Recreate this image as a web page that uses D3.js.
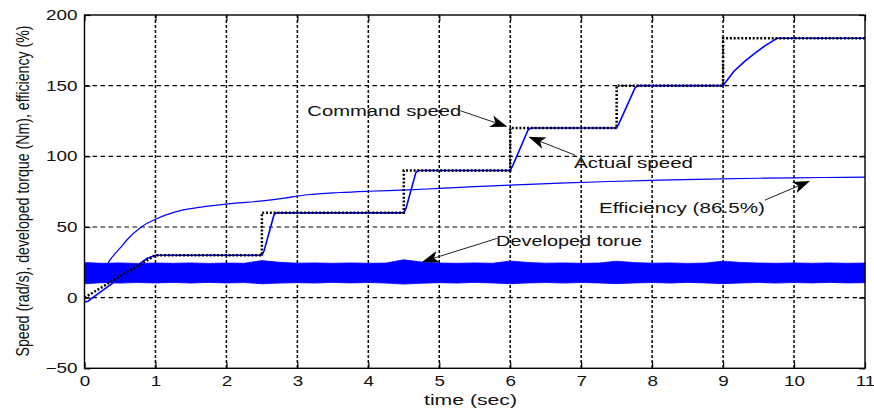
<!DOCTYPE html>
<html><head><meta charset="utf-8">
<script src="https://cdn.jsdelivr.net/npm/d3@7/dist/d3.min.js"></script>
<style>body{margin:0;background:#fff}svg{display:block}</style>
</head><body><svg id="c" width="874" height="409"></svg>
<script>
// ---------- data ----------
const xTicks = [0,1,2,3,4,5,6,7,8,9,10,11];
const yTicks = [-50,0,50,100,150,200];
const xGrid = [1,2,3,4,5,6,7,8,9,10];
const yGrid = [0,50,100,150];

const cmdTime  = [0, 1, 2.5, 2.5, 4.5, 4.5, 6, 6, 7.5, 7.5, 9, 9, 11];
const cmdSpeed = [0, 30, 30, 60, 60, 90, 90, 120, 120, 150, 150, 183.5, 183.5];

const actTime  = [0, 0.05, 0.13, 0.5, 0.88, 1.0, 2.5, 2.53, 2.67, 2.7, 4.5, 4.53, 4.67, 4.7, 6.0, 6.04, 6.25, 6.29, 7.5, 7.54, 7.76, 7.8, 9.0, 9.04, 9.15, 9.3, 9.45, 9.6, 9.76, 11];
const actSpeed = [-3, -2.5, 0.5, 14, 27.7, 30, 30, 33, 58.5, 60, 60, 63, 88.5, 90, 90, 94, 118.5, 120, 120, 124, 148.5, 150, 150, 152.8, 160, 167, 173, 178.5, 183.5, 183.5];

const effTime  = [0.2, 0.35, 0.5, 0.62, 0.8, 1.0, 1.27, 1.64, 2.02, 2.54, 2.82, 3.14, 3.6, 4.0, 4.55, 5.0, 5.5, 6.0, 6.7, 7.4, 8.1, 8.8, 9.5, 10.0, 10.4, 11];
const effValue = [12, 26, 35, 42, 50, 55.5, 60.5, 64.0, 66.4, 68.6, 70.4, 72.8, 74.4, 75.3, 76.2, 77.3, 78.5, 79.6, 81.0, 82.2, 83.1, 83.9, 84.5, 84.8, 85, 85.3];

const torqueTime  = [0,0.25,0.5,0.75,1,1.25,1.5,1.75,2,2.25,2.5,2.75,3,3.25,3.5,3.75,4,4.25,4.5,4.75,5,5.25,5.5,5.75,6,6.25,6.5,6.75,7,7.25,7.5,7.75,8,8.25,8.5,8.75,9,9.25,9.5,9.75,10,10.25,10.5,10.75,11];
const torqueUpper = [24.8,24.3,24.6,24.2,24.5,24.3,24.6,24.2,24.5,24.3,26.2,25.0,24.4,24.6,24.3,24.6,24.3,24.5,26.8,25.2,24.5,24.3,24.6,24.3,25.9,24.9,24.4,24.6,24.3,24.5,25.8,24.8,24.4,24.6,24.2,24.5,25.8,24.9,24.5,24.3,24.6,24.3,24.6,24.3,24.5];
const torqueLower = [9.8,10.6,10.3,10.7,10.4,10.8,10.3,10.8,10.4,10.7,9.8,10.3,10.6,10.3,10.8,10.4,10.7,10.3,9.6,10.2,10.6,10.3,10.8,10.4,9.8,10.4,10.7,10.3,10.7,10.4,9.9,10.4,10.7,10.3,10.8,10.4,9.9,10.4,10.7,10.3,10.7,10.4,10.8,10.4,10.6];

const annTexts = ["Command speed", "Actual speed", "Efficiency (86.5%)", "Developed torue"];
const annTextPos = [[3.14, 128.8], [6.90, 92.0], [7.25, 59.8], [5.80, 36.4]];
const annArrowFrom = [[5.30, 132.2], [6.915, 100.8], [9.59, 69.0], [5.813, 41.9]];
const annArrowTo = [[5.96, 120.9], [6.258, 113.8], [10.225, 82.6], [4.756, 25.3]];
const annTextLen = [154, 119, 166, 146];

// ---------- drawing ----------
const SX = 1.3;
const FONT = "'Liberation Sans', Arial, sans-serif";
const svg = d3.select("#c");
const x = d3.scaleLinear().domain([0, 11]).range([84.5, 865]);
const y = d3.scaleLinear().domain([-50, 200]).range([368.3, 15]);

// grid
svg.append("g").selectAll("line").data(xGrid).join("line")
  .attr("x1", d => x(d)).attr("x2", d => x(d)).attr("y1", y(200)).attr("y2", y(-50))
  .attr("stroke", "#000").attr("stroke-width", 1.5).attr("stroke-dasharray", "3,2");
svg.append("g").selectAll("line").data(yGrid).join("line")
  .attr("x1", x(0)).attr("x2", x(11)).attr("y1", d => y(d)).attr("y2", d => y(d))
  .attr("stroke", "#000").attr("stroke-width", 1.2).attr("stroke-dasharray", "4.5,3.5");

// torque band
const tIdx = torqueTime.map((t, i) => i);
svg.append("path").datum(tIdx)
  .attr("d", d3.area().x(i => x(torqueTime[i])).y0(i => y(torqueLower[i])).y1(i => y(torqueUpper[i])))
  .attr("fill", "#0000ff").attr("stroke", "#0000ff").attr("stroke-width", 0.8);

// efficiency
svg.append("path").datum(effTime.map((t, i) => [t, effValue[i]]))
  .attr("d", d3.line().curve(d3.curveMonotoneX).x(d => x(d[0])).y(d => y(d[1])))
  .attr("fill", "none").attr("stroke", "#0000ff").attr("stroke-width", 1.2);

// actual speed
svg.append("path").datum(actTime.map((t, i) => [t, actSpeed[i]]))
  .attr("d", d3.line().x(d => x(d[0])).y(d => y(d[1])))
  .attr("fill", "none").attr("stroke", "#0000ff").attr("stroke-width", 1.6);

// command speed
svg.append("path").datum(cmdTime.map((t, i) => [t, cmdSpeed[i]]))
  .attr("d", d3.line().x(d => x(d[0])).y(d => y(d[1])))
  .attr("fill", "none").attr("stroke", "#000").attr("stroke-width", 2.5).attr("stroke-dasharray", "2,1.8");

// axes
const gx = svg.append("g").attr("transform", `translate(0,${y(-50)})`)
  .call(d3.axisBottom(x).tickValues(xTicks).tickSizeInner(-6).tickSizeOuter(0).tickPadding(7).tickFormat(d3.format("d")));
const gy = svg.append("g").attr("transform", `translate(${x(0)},0)`)
  .call(d3.axisLeft(y).tickValues(yTicks).tickSizeInner(-6).tickSizeOuter(0).tickFormat(d3.format("d")));
const gt = svg.append("g").attr("transform", `translate(0,${y(200)})`)
  .call(d3.axisTop(x).tickValues(xTicks).tickSizeInner(-6).tickSizeOuter(0).tickFormat(""));
const gr = svg.append("g").attr("transform", `translate(${x(11)},0)`)
  .call(d3.axisRight(y).tickValues(yTicks).tickSizeInner(-6).tickSizeOuter(0).tickFormat(""));
[gx, gy, gt, gr].forEach(g => {
  g.select(".domain").remove();
  g.selectAll(".tick line").attr("stroke", "#000").attr("stroke-width", 1.2);
});
gx.selectAll("text").attr("font-family", FONT).attr("font-size", 14.5).attr("fill", "#111")
  .attr("transform", `scale(${SX},1)`);
gy.selectAll("text").attr("font-family", FONT).attr("font-size", 14.5).attr("fill", "#111")
  .attr("x", 0).attr("transform", `translate(-7,0) scale(${SX},1)`);

// box
svg.append("rect").attr("x", x(0)).attr("y", y(200)).attr("width", x(11) - x(0)).attr("height", y(-50) - y(200))
  .attr("fill", "none").attr("stroke", "#000").attr("stroke-width", 1.4);

// axis titles
svg.append("text").attr("font-family", FONT).attr("font-size", 15).attr("fill", "#111")
  .attr("x", 424).attr("y", 405).attr("textLength", 93).attr("lengthAdjust", "spacingAndGlyphs")
  .text("time (sec)");
svg.append("text").attr("font-family", FONT).attr("font-size", 14.2).attr("fill", "#111")
  .attr("text-anchor", "middle").attr("textLength", 331).attr("lengthAdjust", "spacingAndGlyphs")
  .attr("transform", `translate(28.5,191) scale(${SX},1) rotate(-90)`)
  .text("Speed (rad/s), developed torque (Nm), efficiency (%)");

// annotations
annTexts.forEach((t, i) => {
  svg.append("text").attr("font-family", FONT).attr("font-size", 15).attr("fill", "#111")
    .attr("x", x(annTextPos[i][0])).attr("y", y(annTextPos[i][1]))
    .attr("textLength", annTextLen[i]).attr("lengthAdjust", "spacingAndGlyphs").text(t);
  const x0 = x(annArrowFrom[i][0]), y0 = y(annArrowFrom[i][1]);
  const x1 = x(annArrowTo[i][0]), y1 = y(annArrowTo[i][1]);
  const dx = x1 - x0, dy = y1 - y0, len = Math.hypot(dx, dy);
  const ux = dx / len, uy = dy / len, nx = -uy, ny = ux;
  const L = 17, W = 6, N = 4.5;
  svg.append("line").attr("x1", x0).attr("y1", y0).attr("x2", x1 - ux * (L - N)).attr("y2", y1 - uy * (L - N))
    .attr("stroke", "#222").attr("stroke-width", 1);
  const pts = [[x1, y1], [x1 - ux * L + nx * W, y1 - uy * L + ny * W], [x1 - ux * (L - N), y1 - uy * (L - N)], [x1 - ux * L - nx * W, y1 - uy * L - ny * W]];
  svg.append("path").attr("d", "M" + pts.map(p => p.join(",")).join("L") + "Z").attr("fill", "#000");
});
</script></body></html>
